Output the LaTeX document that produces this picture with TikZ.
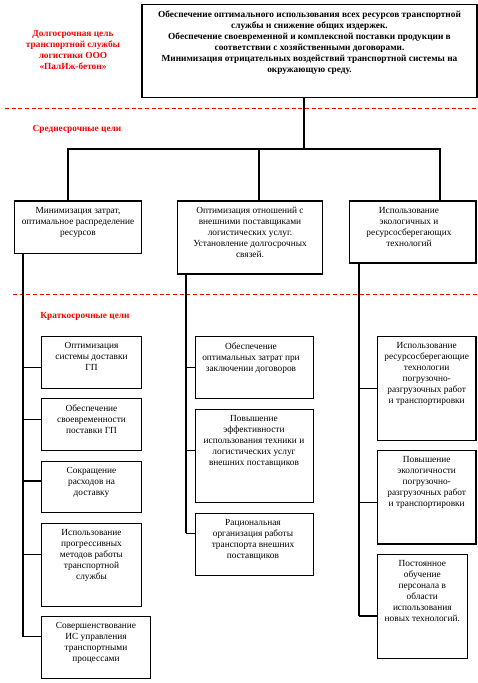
\documentclass[tikz,border=0pt]{standalone}
\usepackage{fontspec}
\setmainfont{Liberation Serif}
\usetikzlibrary{fit}
\definecolor{tred}{RGB}{255,0,0}
\begin{document}
\begin{tikzpicture}[x=0.75pt,y=-0.75pt,
  box/.style={draw, line width=0.8pt, inner sep=0pt},
  txt/.style={inner sep=0pt, align=center, font=\fontsize{7}{8.2}\selectfont, anchor=north},
  btxt/.style={txt, font=\fontsize{7}{8.2}\selectfont\bfseries},
  rtxt/.style={btxt, text=tred},
  con/.style={line width=0.8pt},
  sep/.style={tred, line width=0.7pt, dash pattern=on 3pt off 2pt}]
\useasboundingbox (0,0) rectangle (478,683);

% separators
\draw[sep] (5,108) -- (478,108);
\draw[sep] (13,294) -- (478,294);

% labels
\node[rtxt] (lt) at (73,30) {Долгосрочная цель\\транспортной службы\\логистики ООО\\«ПалИж-бетон»};
\node[rtxt] (mt) at (77,125) {Среднесрочные цели};
\node[rtxt] (st) at (85,312) {Краткосрочные цели};

% top box
\node[box, fit={(142,4.3) (477,97.3)}] (top) {};
\node[btxt] at (309.5,11) {Обеспечение оптимального использования всех ресурсов транспортной\\службы и снижение  общих издержек.\\Обеспечение своевременной  и комплексной  поставки продукции в\\соответствии с хозяйственными договорами.\\Минимизация отрицательных воздействий транспортной системы на\\окружающую среду.};

% mid-term boxes
\node[box, fit={(14.3,201) (141.7,253.3)}] (b1) {};
\node[txt] at (78,207) {Минимизация затрат,\\оптимальное распределение\\ресурсов};
\node[box, fit={(177.3,201) (322.3,274)}] (b2) {};
\node[txt] at (250,207) {Оптимизация отношений с\\внешними поставщиками\\логистических услуг.\\Установление долгосрочных\\связей.};
\node[box, fit={(349.3,201) (476,263)}] (b3) {};
\node[txt] at (409,207) {Использование\\экологичных и\\ресурсосберегающих\\технологий};

% short-term left
\node[box, fit={(41.3,336.7) (141.7,388.3)}] (L1) {};
\node[txt] at (91.5,342.5) {Оптимизация\\системы доставки\\ГП};
\node[box, fit={(41.3,398.3) (141.7,450.3)}] (L2) {};
\node[txt] at (91.5,404.5) {Обеспечение\\своевременности\\поставки ГП};
\node[box, fit={(41.3,461.7) (141.7,512.3)}] (L3) {};
\node[txt] at (91.5,467.5) {Сокращение\\расходов на\\доставку};
\node[box, fit={(41.3,523.3) (141.7,606.3)}] (L4) {};
\node[txt] at (91.5,529.5) {Использование\\прогрессивных\\методов работы\\транспортной\\службы};
\node[box, fit={(41.3,616.3) (150.7,678.3)}] (L5) {};
\node[txt] at (96,622.5) {Совершенствование\\ИС управления\\транспортными\\процессами};

% short-term middle
\node[box, fit={(195.7,336.7) (313.7,398.3)}] (M1) {};
\node[txt] at (251,342.5) {Обеспечение\\оптимальных затрат при\\заключении договоров};
\node[box, fit={(195.7,409.3) (313.7,502.3)}] (M2) {};
\node[txt] at (254,415.5) {Повышение\\эффективности\\использования  техники и\\логистических услуг\\внешних поставщиков};
\node[box, fit={(195.7,513.3) (313.7,575.3)}] (M3) {};
\node[txt] at (253,519.5) {Рациональная\\организация работы\\транспорта внешних\\поставщиков};

% short-term right
\node[box, fit={(377.3,336.7) (476,440.3)}] (R1) {};
\node[txt] at (426.7,342.5) {Использование\\ресурсосберегающие\\технологии\\погрузочно-\\разгрузочных работ\\и транспортировки};
\node[box, fit={(377.3,450.7) (476,544)}] (R2) {};
\node[txt] at (426.7,456.5) {Повышение\\экологичности\\погрузочно-\\разгрузочных работ\\и транспортировки};
\node[box, fit={(377.3,554.3) (467.3,658.3)}] (R3) {};
\node[txt] at (422.3,560.5) {Постоянное\\обучение\\персонала в\\области\\использования\\новых технологий.};

% top-level connectors
\coordinate (j0) at (304,149);
\coordinate (j1) at (68,149);
\coordinate (j2) at (259,149);
\coordinate (j3) at (440,149);
\draw[con] (j0 |- top.south) -- (j0);
\draw[con] (j1 |- b1.north) -- (j1) -- (j3) -- (j3 |- b3.north);
\draw[con] (j2) -- (j2 |- b2.north);

% left spine
\coordinate (cL1) at (23,367.3);
\coordinate (cL2) at (23,419.3);
\coordinate (cL3) at (23,481);
\coordinate (cL4) at (23,554.3);
\coordinate (cL5) at (23,636.7);
\draw[con] (cL5 |- b1.south) -- (cL5);
\foreach \n in {1,...,5} \draw[con] (cL\n) -- (cL\n -| L\n.west);

% middle spine
\coordinate (cM1) at (186,367.3);
\coordinate (cM2) at (186,450.7);
\coordinate (cM3) at (186,533.3);
\draw[con] (cM3 |- b2.south) -- (cM3);
\foreach \n in {1,2,3} \draw[con] (cM\n) -- (cM\n -| M\n.west);

% right spine
\coordinate (cR1) at (359,388.3);
\coordinate (cR2) at (359,502.3);
\coordinate (cR3) at (359,616);
\draw[con] (cR3 |- b3.south) -- (cR3);
\foreach \n in {1,2,3} \draw[con] (cR\n) -- (cR\n -| R\n.west);
\end{tikzpicture}
\end{document}
